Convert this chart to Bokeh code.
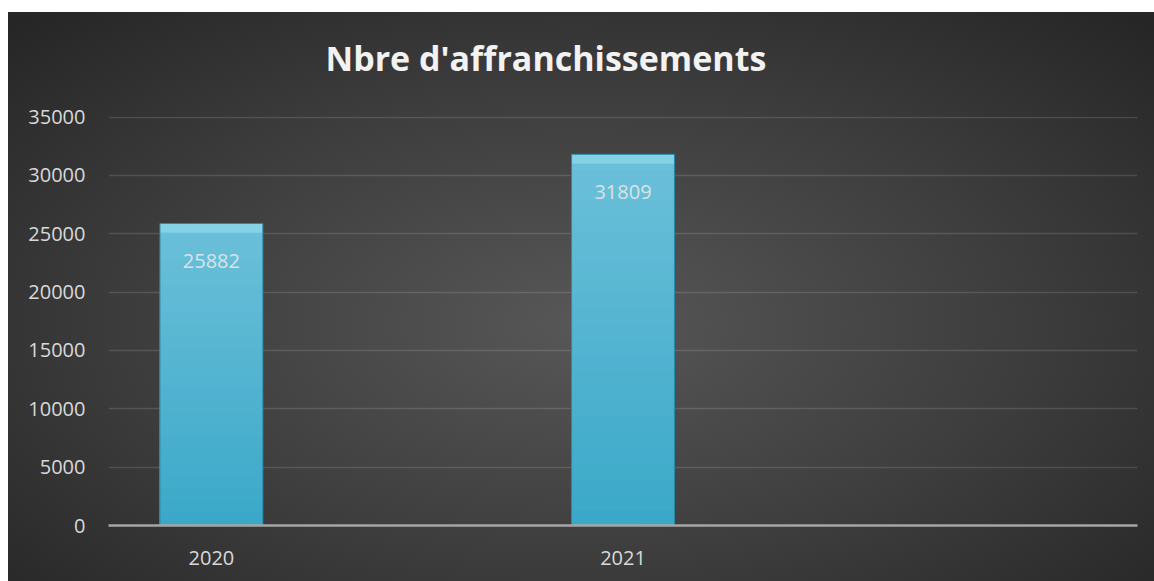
from bokeh.plotting import figure
from bokeh.models import Range1d, FixedTicker, ColumnDataSource, Title
from bokeh.core.properties import value
from bokeh.embed import file_html
from bokeh.resources import INLINE

# ---- data ----
years = ["2020", "2021"]
counts = [25882, 31809]
y_ticks = [0, 5000, 10000, 15000, 20000, 25000, 30000, 35000]
title_text = "Nbre d'affranchissements"

xpos = list(range(len(years)))
bevel = 800  # bevel band thickness in data units

FONT = "Open Sans"

p = figure(width=1146, height=569, output_backend="svg", toolbar_location=None,
           x_range=Range1d(-0.25, 2.25), y_range=Range1d(0, 35050),
           min_border_left=100, min_border_right=17, min_border_top=104, min_border_bottom=56)
p.styles = {"margin-top": "12px", "margin-left": "8px",
            "background": "radial-gradient(ellipse 70% 75% at 50% 55%, #575757 0%, #3d3d3d 55%, #262626 100%)"}
p.background_fill_alpha = 0
p.border_fill_alpha = 0
p.outline_line_color = None

# bars drawn as nested vertical gradient layers (top light -> bottom darker)
top_rgb = (0x6b, 0xc0, 0xd9)
bot_rgb = (0x3b, 0xa8, 0xc9)
n_bands = 24
bx, bt, bc = [], [], []
for k in range(n_bands):
    f = 1 - k / n_bands
    t = 1 - (k + 0.5) / n_bands
    rgb = tuple(int(round(b + (a - b) * t)) for a, b in zip(top_rgb, bot_rgb))
    for xi, c in zip(xpos, counts):
        bx.append(xi)
        bt.append(c * f)
        bc.append("#%02x%02x%02x" % rgb)
p.vbar(x=bx, bottom=0, top=bt, width=0.25, fill_color=bc, line_color=None)

src = ColumnDataSource(dict(x=xpos, top=counts, lab=[str(c) for c in counts],
                            bev_bottom=[c - bevel for c in counts]))
p.vbar(x="x", top="top", bottom="bev_bottom", width=0.25, source=src,
       fill_color="#8ad3e8", fill_alpha=0.85, line_color=None)
p.vbar(x="x", top="top", width=0.25, source=src, fill_color=None,
       line_color="#2a86a5", line_width=1)

# value labels
p.text(x="x", y="top", text="lab", source=src, text_align="center", text_baseline="middle",
       y_offset=38, text_font=value(FONT), text_font_size="20px", text_color="#dce3e6")

# spacer between frame and title
p.add_layout(Title(text=" ", text_font_size="1px", standoff=33), "above")

# title
p.title.text = title_text
p.title.align = "left"
p.title.offset = 217
p.title.standoff = 0
p.title.text_font = FONT
p.title.text_font_size = "34px"
p.title.text_font_style = "bold"
p.title.text_color = "#f2f2f2"

# axes
p.xaxis.ticker = FixedTicker(ticks=xpos)
p.xaxis.major_label_overrides = {i: y for i, y in enumerate(years)}
p.xaxis.major_tick_line_color = None
p.xaxis.minor_tick_line_color = None
p.xaxis.axis_line_color = "#a6a6a6"
p.xaxis.axis_line_width = 2.5
p.xaxis.major_label_standoff = 19
p.xaxis.major_label_text_font = FONT
p.xaxis.major_label_text_font_size = "20px"
p.xaxis.major_label_text_color = "#d9d9d9"

p.yaxis.ticker = FixedTicker(ticks=y_ticks)
p.yaxis.axis_line_color = None
p.yaxis.major_tick_line_color = None
p.yaxis.minor_tick_line_color = None
p.yaxis.major_label_standoff = 17
p.yaxis.major_label_text_font = FONT
p.yaxis.major_label_text_font_size = "20px"
p.yaxis.major_label_text_color = "#d9d9d9"

p.xgrid.grid_line_color = None
p.ygrid.grid_line_color = "white"
p.ygrid.grid_line_alpha = 0.13
p.ygrid.grid_line_width = 1.5

open("out.html", "w").write(file_html(p, INLINE))
